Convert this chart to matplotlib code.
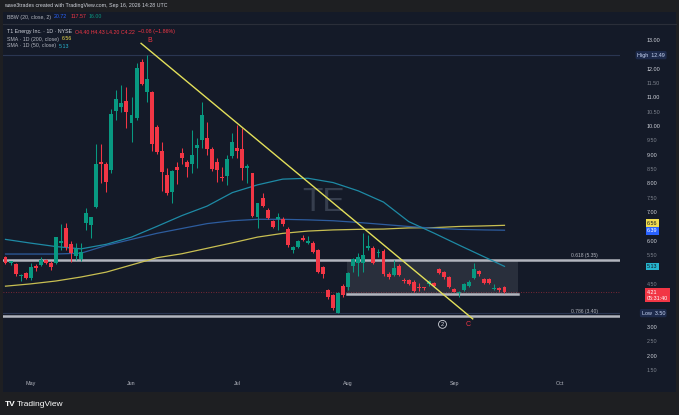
import matplotlib
matplotlib.use('Agg')
import matplotlib.pyplot as plt
import numpy as np
import pandas as pd
from matplotlib.patches import Rectangle

W, H = 679, 415
plt.rcParams['font.family'] = ['Liberation Sans', 'DejaVu Sans']

# --- data (T1 Energy, daily, 2026-04-24 .. 2026-09-16) ---
opens = [5.46, 5.24, 5.21, 4.78, 4.90, 4.71, 5.14, 5.18, 5.35, 5.26,
         5.24, 5.93, 6.48, 5.91, 5.49, 5.37, 6.65, 6.57, 7.21, 8.78,
         8.70, 8.49, 10.55, 10.69, 10.90, 10.14, 10.29, 12.26, 11.22, 11.22,
         10.00, 9.15, 8.31, 7.73, 8.58, 9.07, 8.78, 8.70, 9.24, 9.53,
         9.59, 9.21, 8.78, 8.25, 8.28, 8.98, 9.24, 9.21, 8.55, 8.37,
         6.86, 7.50, 7.09, 6.71, 6.77, 6.78, 6.42, 5.70, 5.82, 6.13,
         5.93, 5.95, 5.70, 5.12, 4.31, 4.13, 3.52, 4.45, 4.42, 5.14,
         5.24, 5.24, 5.76, 5.76, 5.59, 5.68, 4.86, 4.83, 5.14, 4.63,
         4.66, 4.60, 4.38, 4.37, 4.52, 4.54, 5.03, 4.94, 4.75, 4.33,
         4.19, 4.31, 4.45, 4.71, 4.97, 4.68, 4.68, 4.35, 4.38, 4.40]
highs = [5.50, 5.33, 5.26, 4.88, 4.93, 5.23, 5.22, 5.44, 5.40, 5.30,
         6.17, 6.61, 6.65, 6.00, 5.95, 5.95, 7.16, 6.86, 9.38, 9.38,
         8.78, 10.60, 11.28, 11.45, 11.39, 11.04, 12.22, 12.34, 12.49, 11.25,
         10.05, 9.48, 8.56, 8.50, 8.78, 9.25, 8.85, 9.88, 9.59, 10.87,
         10.17, 9.30, 8.90, 8.60, 9.00, 9.77, 10.06, 9.94, 8.70, 8.40,
         7.35, 7.68, 7.15, 6.75, 6.98, 6.85, 6.50, 5.85, 6.05, 6.22,
         6.20, 6.00, 5.75, 5.15, 4.35, 4.17, 4.25, 4.50, 4.95, 5.42,
         5.60, 6.28, 6.22, 5.85, 5.75, 5.72, 4.92, 5.35, 5.20, 4.72,
         4.70, 4.65, 4.55, 4.42, 4.65, 4.58, 5.08, 4.98, 4.78, 4.38,
         4.28, 4.55, 4.65, 5.25, 5.00, 4.72, 4.72, 4.52, 4.42, 4.43]
lows = [5.20, 5.17, 4.80, 4.63, 4.68, 4.66, 4.98, 5.15, 5.22, 5.00,
        5.22, 5.70, 5.70, 5.29, 5.36, 5.30, 6.39, 6.12, 7.15, 8.05,
        7.73, 8.40, 10.23, 10.50, 9.94, 9.47, 10.22, 11.45, 10.87, 9.14,
        9.05, 7.74, 7.60, 7.35, 8.00, 8.70, 8.25, 8.39, 8.55, 9.25,
        9.00, 8.45, 8.08, 8.10, 7.95, 8.90, 8.90, 8.14, 8.02, 6.85,
        6.46, 7.20, 6.78, 6.45, 6.40, 6.55, 5.80, 5.59, 5.78, 6.00,
        5.90, 5.60, 4.90, 4.71, 4.00, 3.60, 3.50, 4.05, 4.30, 4.95,
        4.78, 4.95, 5.70, 5.20, 5.45, 4.80, 4.68, 4.80, 4.80, 4.55,
        4.48, 4.25, 4.27, 4.30, 4.45, 4.40, 4.88, 4.70, 4.38, 4.22,
        4.06, 4.28, 4.42, 4.68, 4.80, 4.50, 4.52, 4.30, 4.22, 4.20]
closes = [5.25, 5.31, 4.86, 4.84, 4.72, 5.12, 5.06, 5.35, 5.26, 5.12,
          6.14, 6.02, 5.82, 5.59, 5.74, 5.64, 6.99, 6.85, 8.69, 8.70,
          8.06, 10.44, 10.95, 10.82, 10.52, 10.39, 12.03, 11.48, 11.65, 9.39,
          9.13, 8.43, 7.70, 8.46, 8.49, 8.90, 8.60, 9.01, 9.36, 10.40,
          9.21, 8.51, 8.49, 8.20, 8.86, 9.47, 9.16, 8.55, 8.63, 6.88,
          7.33, 7.23, 6.80, 6.51, 6.84, 6.61, 5.87, 5.82, 6.02, 6.05,
          6.01, 5.64, 4.94, 4.86, 4.07, 3.67, 4.21, 4.13, 4.89, 5.38,
          5.45, 5.53, 5.84, 5.26, 5.64, 4.86, 4.75, 5.09, 4.83, 4.61,
          4.52, 4.28, 4.36, 4.36, 4.62, 4.46, 4.91, 4.75, 4.42, 4.25,
          4.25, 4.52, 4.60, 5.03, 4.86, 4.54, 4.56, 4.38, 4.30, 4.22]

# moving averages every 5 bars
ma_idx = [0, 5, 10, 15, 20, 25, 30, 35, 40, 45, 50, 55, 60, 65, 70, 75, 80, 85, 90, 95, 99]
sma200 = [4.44, 4.52, 4.62, 4.76, 4.93, 5.18, 5.43, 5.57, 5.76, 5.95, 6.15,
          6.28, 6.36, 6.40, 6.42, 6.43, 6.47, 6.48, 6.52, 6.54, 6.56]
sma50 = [6.07, 5.94, 5.82, 5.74, 5.90, 6.15, 6.52, 6.90, 7.23, 7.70, 7.97,
         8.17, 8.20, 8.05, 7.76, 7.37, 6.69, 6.29, 5.87, 5.46, 5.13]
ma_blue = [5.56, 5.56, 5.56, 5.59, 5.86, 6.07, 6.28, 6.45, 6.62, 6.72, 6.77,
           6.77, 6.75, 6.72, 6.66, 6.59, 6.52, 6.46, 6.42, 6.40, 6.39]

fib_levels = [0.618, 0.786]
fib_prices = [5.35, 3.40]
box_idx = [67.7, 101.7]
box_prices = [4.17, 5.35]
trend_idx = [26.9, 92.7]
trend_prices = [12.90, 3.30]
high_price, low_price = 12.49, 3.50
holidays = ['2026-05-25', '2026-06-19', '2026-07-03', '2026-09-07']

BG = '#141a28'
FRAME = '#1e1f22'
GREEN = '#089981'
RED = '#f23645'
TXT = '#d1d4dc'


def fx(x):
    return x / W


def fy(y):
    return 1 - y / H


fig = plt.figure(figsize=(W / 100, H / 100), dpi=100, facecolor=FRAME)
# chart panel
panel = Rectangle((fx(3), fy(392)), fx(673), (392 - 12) / H,
                  transform=fig.transFigure, fc=BG, ec='none', zorder=-5)
fig.patches.append(panel)

ax = fig.add_axes([fx(3), fy(375), fx(617), 350 / H])
ax.set_xlim(-0.496, 121.92)
ax.set_ylim(1.345, 13.54)
ax.axis('off')

axr = fig.add_axes([fx(620), fy(375), fx(56), 350 / H], sharey=ax)
axr.set_xlim(0, 56)
axr.axis('off')

# reference lines
ax.axhline(high_price, color='#2a3652', lw=0.8, zorder=1)
ax.axhline(low_price, color='#2a3652', lw=0.8, zorder=1)
ax.axhline(closes[-1], color=RED, lw=0.6, ls=(0, (1, 2)), alpha=0.6, zorder=1)

for lev, p in zip(fib_levels, fib_prices):
    ax.axhline(p, color='#b2b5be', lw=1.8, zorder=2)
    ax.text(117.5, p + 0.08, f'{lev} ({p:.2f})', color='#b2b5be', fontsize=3.6,
            ha='right', va='bottom', zorder=6)

ax.add_patch(Rectangle((box_idx[0], box_prices[0]), box_idx[1] - box_idx[0],
                       box_prices[1] - box_prices[0], fc='#9598a1', alpha=0.17,
                       ec='none', zorder=1))
ax.plot(box_idx, [box_prices[0]] * 2, color='#b2b5be', lw=1.8, zorder=2)

# watermark
ax.text(63.2, 7.37, 'TE', color='#363e4e', fontsize=24, ha='center', va='center', zorder=1)

# moving averages
ax.plot(ma_idx, sma200, color='#c8bf52', lw=0.9, zorder=3)
ax.plot(ma_idx, ma_blue, color='#2d5c9e', lw=0.9, zorder=3)
ax.plot(ma_idx, sma50, color='#1e8aa5', lw=0.9, zorder=3)

# candles
o = np.array(opens)
c = np.array(closes)
hi = np.array(highs)
lo = np.array(lows)
idx = np.arange(len(c))
cols = np.where(c >= o, GREEN, RED)
ax.vlines(idx, lo, hi, colors=cols, lw=0.75, zorder=4)
ax.bar(idx, np.maximum(np.abs(c - o), 0.035), bottom=np.minimum(o, c), width=0.78,
       color=cols, linewidth=0, zorder=5)

# trend line and wave labels
ax.plot(trend_idx, trend_prices, color='#e3e05a', lw=1.0, zorder=6)
ax.text(28.7, 13.0, 'B', color=RED, fontsize=5, ha='center', va='center', zorder=7)
ax.text(91.8, 3.12, 'C', color=RED, fontsize=5, ha='center', va='center', zorder=7)
ax.text(86.7, 3.11, '2', color=TXT, fontsize=4.2, ha='center', va='center', zorder=7,
        bbox=dict(boxstyle='circle,pad=0.25', fc='none', ec=TXT, lw=0.6))

# price scale
for p in np.arange(1.5, 13.01, 0.5):
    if round(p, 2) in (12.5, 6.5, 5.0, 4.0, 3.5):
        continue
    whole = abs(p - round(p)) < 1e-6
    axr.text(27, p, f'{p:.2f}', color=TXT if whole else '#7d828d', fontsize=3.9,
             ha='left', va='center')

axr.text(45, high_price, 'High  12.49', color='#c9d6f5', fontsize=3.9, ha='right',
         va='center', bbox=dict(boxstyle='round,pad=0.3', fc='#1d2a4b', ec='none'))
axr.text(45, low_price, f'Low  {low_price:.2f}', color='#c9d6f5', fontsize=3.9, ha='right',
         va='center', bbox=dict(boxstyle='round,pad=0.3', fc='#1d2a4b', ec='none'))
axr.text(27, sma200[-1] + 0.08, f'{sma200[-1]:.2f}', color='#131722', fontsize=3.9,
         ha='left', va='center', bbox=dict(boxstyle='square,pad=0.25', fc='#f0dc4e', ec='none'))
axr.text(27, ma_blue[-1] - 0.02, f'{ma_blue[-1]:.2f}', color='white', fontsize=3.9,
         ha='left', va='center', bbox=dict(boxstyle='square,pad=0.25', fc='#2962ff', ec='none'))
axr.text(27, sma50[-1], f'{sma50[-1]:.2f}', color='#131722', fontsize=3.9,
         ha='left', va='center', bbox=dict(boxstyle='square,pad=0.25', fc='#26b5cf', ec='none'))
axr.text(27, closes[-1] + 0.1, '4.21\n05:31:40', color='white', fontsize=3.9,
         ha='left', va='top', linespacing=1.3,
         bbox=dict(boxstyle='square,pad=0.3', fc=RED, ec='none'))

# time axis
dates = pd.bdate_range('2026-04-24', '2026-10-30', freq='C', holidays=holidays)
mon = dates.month
for i in range(1, len(dates)):
    if mon[i] != mon[i - 1]:
        ax.text(i, -0.018, dates[i].strftime('%b'), transform=ax.get_xaxis_transform(),
                color='#b2b5be', fontsize=3.9, ha='center', va='top')

# header and legend
fig.text(fx(4), fy(6), 'wave3trades created with TradingView.com, Sep 16, 2026 14:28 UTC',
         color=TXT, fontsize=3.8, va='center')
fig.add_artist(plt.Line2D([fx(3), fx(676)], [fy(24), fy(24)], color='#2a2e39', lw=0.8))

renderer = fig.canvas.get_renderer()


def legend_row(y, parts):
    x = 7
    for s, col in parts:
        t = fig.text(fx(x), fy(y), s, color=col, fontsize=3.8, va='center')
        x += t.get_window_extent(renderer).width + 3


legend_row(17, [('BBW (20, close, 2)', '#b2b5be'), ('20.72', '#2962ff'),
                ('117.57', RED), ('16.00', GREEN)])
legend_row(32, [('T1 Energy Inc. · 1D · NYSE', TXT), ('O4.40 H4.43 L4.20 C4.22', RED),
                ('−0.08 (−1.86%)', RED)])
legend_row(39, [('SMA · 1D (200, close)', '#b2b5be'), ('6.56', '#f0dc4e')])
legend_row(46, [('SMA · 1D (50, close)', '#b2b5be'), ('5.13', '#26b5cf')])

# footer logo
fig.text(fx(5), fy(404), 'TV', color='white', fontsize=6, va='center', weight='bold')
fig.text(fx(17), fy(404), 'TradingView', color='white', fontsize=6, va='center')

fig.savefig('out.png', dpi=100, facecolor=FRAME)
